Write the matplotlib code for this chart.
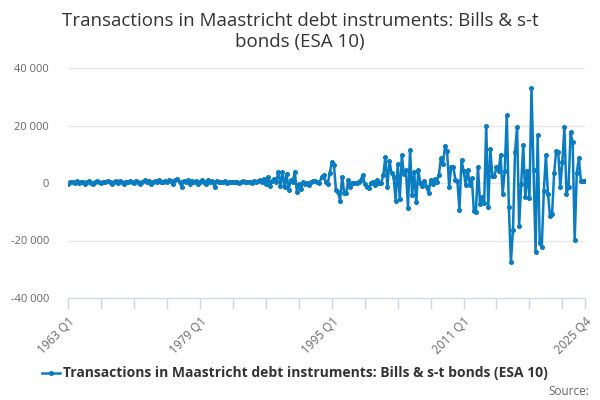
import matplotlib
matplotlib.use("Agg")
import matplotlib.pyplot as plt
import numpy as np

start_year = 1963
n_quarters = 252  # 1963 Q1 .. 2025 Q4

# Quarterly values
seg_1963_1983 = [
    -200, 300, 500, 100, 600, -100, 400, 200, -300, 500, 700, 100, -400, 300, 600, 200,
    -100, 500, 300, 800, 200, -200, 400, 600, 100, 700, 300, -300, 500, 200, 600, 400,
    100, 800, 300, -200, 500, 900, 200, 600, -400, 400, 700, 300, 1000, 200, 500, 800,
    300, 1200, 600, -200, 900, 1300, 400, -1300, 700, 300, 1000, -500, 800, 200, 600, -200,
    500, 900, 300, -300, 1000, 400, 700, -1500, 800, 200, 500, 300, 600, 100, 400, 300,
    500, 200, 400, 100,
]
seg_1984_1993 = [
    300, 600, 200, 500, 400, 100, 700, 300, 600, 1000,
    500, 1500, -500, 2200, -1000, 800, 1500, 500, 3900, -1000,
    3900, -1500, 3200, -2300, 1000, 500, 3900, -3000, -500, -2000,
    200, -300, 0, -600, 300, 800, 600, 200,
]
seg_1994_2010 = [
    0, 2200, 2800, 500, -200, 3400, 7400, 6300, -2400, -3000,
    -6100, 2200, -3400, -3400, 1000, -1300, 0, 0, 100, 500,
    1000, 2800, -300, -1300, -1800, 0, 500, -700, 1000, 0,
    0, 2800, 9100, -1300, 7700, 3400, 2200, -6100, 6600, -5700,
    9700, 3000, 4500, -8600, 11500, -4200, 3800, -6700, 4500, 0,
    -1000, 700, -1300, -3500, 1200, -500, 1500, 500, 2800, 8700,
    6500, 12900, 11000, -1300, 5700, 5700, 1200, 600, -9300, 8000,
]
seg_2011_2025 = [
    4300, -600, 4500, -600, 1600, -9600, -10000, 5700, -7300, -4800,
    -7100, 20000, -8500, 11800, 2500, 2500, 5400, 4300, 9800, -3800,
    4300, 23600, -8200, -27600, -16300, 10700, 19400, -15000, -300, 13200,
    -5000, 4300, -5300, 33000, 4500, -24100, 16700, -21000, -22400, -2700,
    9800, -3800, -11400, -10800, 3400, 11200, 10700, -1300, 7400, 19400,
    -3800, -1300, 17600, 14100, -19800, 3400, 8700, 800, 600, 600,
]

values = seg_1963_1983 + seg_1984_1993 + seg_1994_2010 + seg_2011_2025
values = values[:n_quarters]
labels = [f"{start_year + k // 4} Q{k % 4 + 1}" for k in range(len(values))]

series_name = "Transactions in Maastricht debt instruments: Bills & s-t bonds (ESA 10)"
title = "Transactions in Maastricht debt instruments: Bills & s-t\nbonds (ESA 10)"
y_ticks = [-40000, -20000, 0, 20000, 40000]

plt.rcParams['font.family'] = ['Open Sans', 'DejaVu Sans']

fig = plt.figure(figsize=(6, 4), dpi=100)
ax = fig.add_axes([0.114, 0.255, 0.861, 0.575])

x = np.arange(len(values))
color = '#0a7cc1'
ax.plot(x, values, color=color, lw=1.8, marker='o', ms=2.6, zorder=3)

ax.set_ylim(-40000, 40000)
ax.set_xlim(0, len(values) - 1)
ax.set_yticks(y_ticks)
ax.set_yticklabels([f"{v:,}".replace(",", " ") for v in y_ticks], color='#666666', fontsize=8)
ax.yaxis.grid(True, color='#e6e6e6', lw=1)
ax.set_axisbelow(True)
ax.tick_params(axis='y', length=0, pad=14)

label_pos = [0, 64, 128, 192, len(values) - 1]
minor_pos = list(range(0, len(values), 16)) + [len(values) - 1]
ax.set_xticks(minor_pos, minor=True)
ax.set_xticks(label_pos)
ax.set_xticklabels([labels[p] for p in label_pos], rotation=45, ha='right',
                   rotation_mode='anchor', color='#666666', fontsize=8.5)
ax.tick_params(axis='x', which='both', length=8, color='#ccd6eb', width=1)
ax.tick_params(axis='x', which='major', pad=4)

for s in ['top', 'right', 'left']:
    ax.spines[s].set_visible(False)
ax.spines['bottom'].set_color('#ccd6eb')

fig.text(0.5, 0.97, title, ha='center', va='top', fontsize=13.5, color='#333333',
         linespacing=1.2)

# legend
lx, ly = 0.07, 0.068
fig.lines.append(plt.Line2D([lx, lx + 0.03], [ly, ly], transform=fig.transFigure,
                            color=color, lw=1.8, marker=None))
fig.lines.append(plt.Line2D([lx + 0.015], [ly], transform=fig.transFigure,
                            color=color, marker='o', ms=2.6))
fig.text(lx + 0.035, ly, series_name, ha='left', va='center', fontsize=10,
         fontweight='bold', color='#333333')
fig.text(0.982, 0.022, "Source:", ha='right', va='center', fontsize=8.5, color='#666666')

fig.savefig("out.png", dpi=100)
